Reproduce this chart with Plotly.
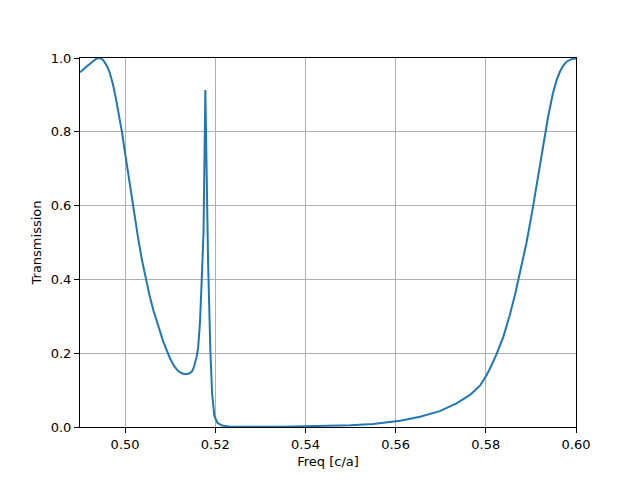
import plotly.graph_objects as go

freq = [0.4900, 0.4903, 0.4910, 0.4918, 0.4927, 0.4936, 0.4944, 0.4950, 0.4955, 0.4961,
        0.4966, 0.4973, 0.4980, 0.4986, 0.4993, 0.4999, 0.5005, 0.5011, 0.5017, 0.5023,
        0.5029, 0.5037, 0.5046, 0.5054, 0.5063, 0.5074, 0.5085, 0.5092, 0.5100, 0.5109,
        0.5118, 0.5127, 0.5135, 0.5142, 0.5148, 0.5152, 0.5155, 0.5159, 0.5162, 0.5166,
        0.5170, 0.5174, 0.5178, 0.5184, 0.5189, 0.5193, 0.5198, 0.5205, 0.5215, 0.5230,
        0.5260, 0.5300, 0.5350, 0.5400, 0.5450, 0.5500, 0.5550, 0.5610, 0.5654, 0.5698,
        0.5735, 0.5765, 0.5787, 0.5802, 0.5813, 0.5824, 0.5839, 0.5853, 0.5865, 0.5878,
        0.5890, 0.5903, 0.5916, 0.5929, 0.5938, 0.5949, 0.5957, 0.5964, 0.5971, 0.5979,
        0.5990, 0.6000]
trans = [0.962, 0.964, 0.972, 0.980, 0.990, 0.998, 1.000, 0.996, 0.988, 0.975,
         0.960, 0.929, 0.888, 0.851, 0.800, 0.750, 0.700, 0.651, 0.602, 0.556,
         0.511, 0.455, 0.400, 0.358, 0.315, 0.270, 0.230, 0.209, 0.185, 0.165,
         0.151, 0.145, 0.143, 0.145, 0.150, 0.160, 0.173, 0.192, 0.215, 0.282,
         0.400, 0.530, 0.913, 0.450, 0.210, 0.090, 0.030, 0.011, 0.004, 0.0015,
         0.0007, 0.0005, 0.001, 0.002, 0.003, 0.005, 0.008, 0.017, 0.028, 0.043,
         0.064, 0.087, 0.112, 0.141, 0.168, 0.198, 0.245, 0.303, 0.360, 0.428,
         0.498, 0.585, 0.680, 0.775, 0.840, 0.905, 0.940, 0.962, 0.978, 0.990,
         0.997, 0.999]

x_ticks = [0.50, 0.52, 0.54, 0.56, 0.58, 0.60]
y_ticks = [0.0, 0.2, 0.4, 0.6, 0.8, 1.0]

fig = go.Figure()
fig.add_trace(go.Scatter(x=freq, y=trans, mode="lines",
                         line=dict(color="#1f77b4", width=2), showlegend=False))

font = dict(family="DejaVu Sans", size=13, color="black")
axis_common = dict(showline=True, linecolor="black", linewidth=1, mirror=True,
                   ticks="outside", ticklen=5, tickwidth=1, tickcolor="black",
                   showgrid=True, gridcolor="#b0b0b0", gridwidth=1, zeroline=False,
                   tickfont=font)

fig.update_layout(
    width=640, height=480,
    margin=dict(l=80, r=64, t=58, b=53),
    paper_bgcolor="white", plot_bgcolor="white",
    font=font,
    xaxis=dict(range=[0.49, 0.60], tickvals=x_ticks,
               ticktext=[f"{v:.2f}" for v in x_ticks],
               title=dict(text="Freq [c/a]", font=font, standoff=6), **axis_common),
    yaxis=dict(range=[0, 1], tickvals=y_ticks,
               ticktext=[f"{v:.1f}" for v in y_ticks],
               title=dict(text="Transmission", font=font, standoff=6), **axis_common),
)

fig.write_html("out.html", config={"displayModeBar": False},
               post_script="document.body.style.margin='0';")
